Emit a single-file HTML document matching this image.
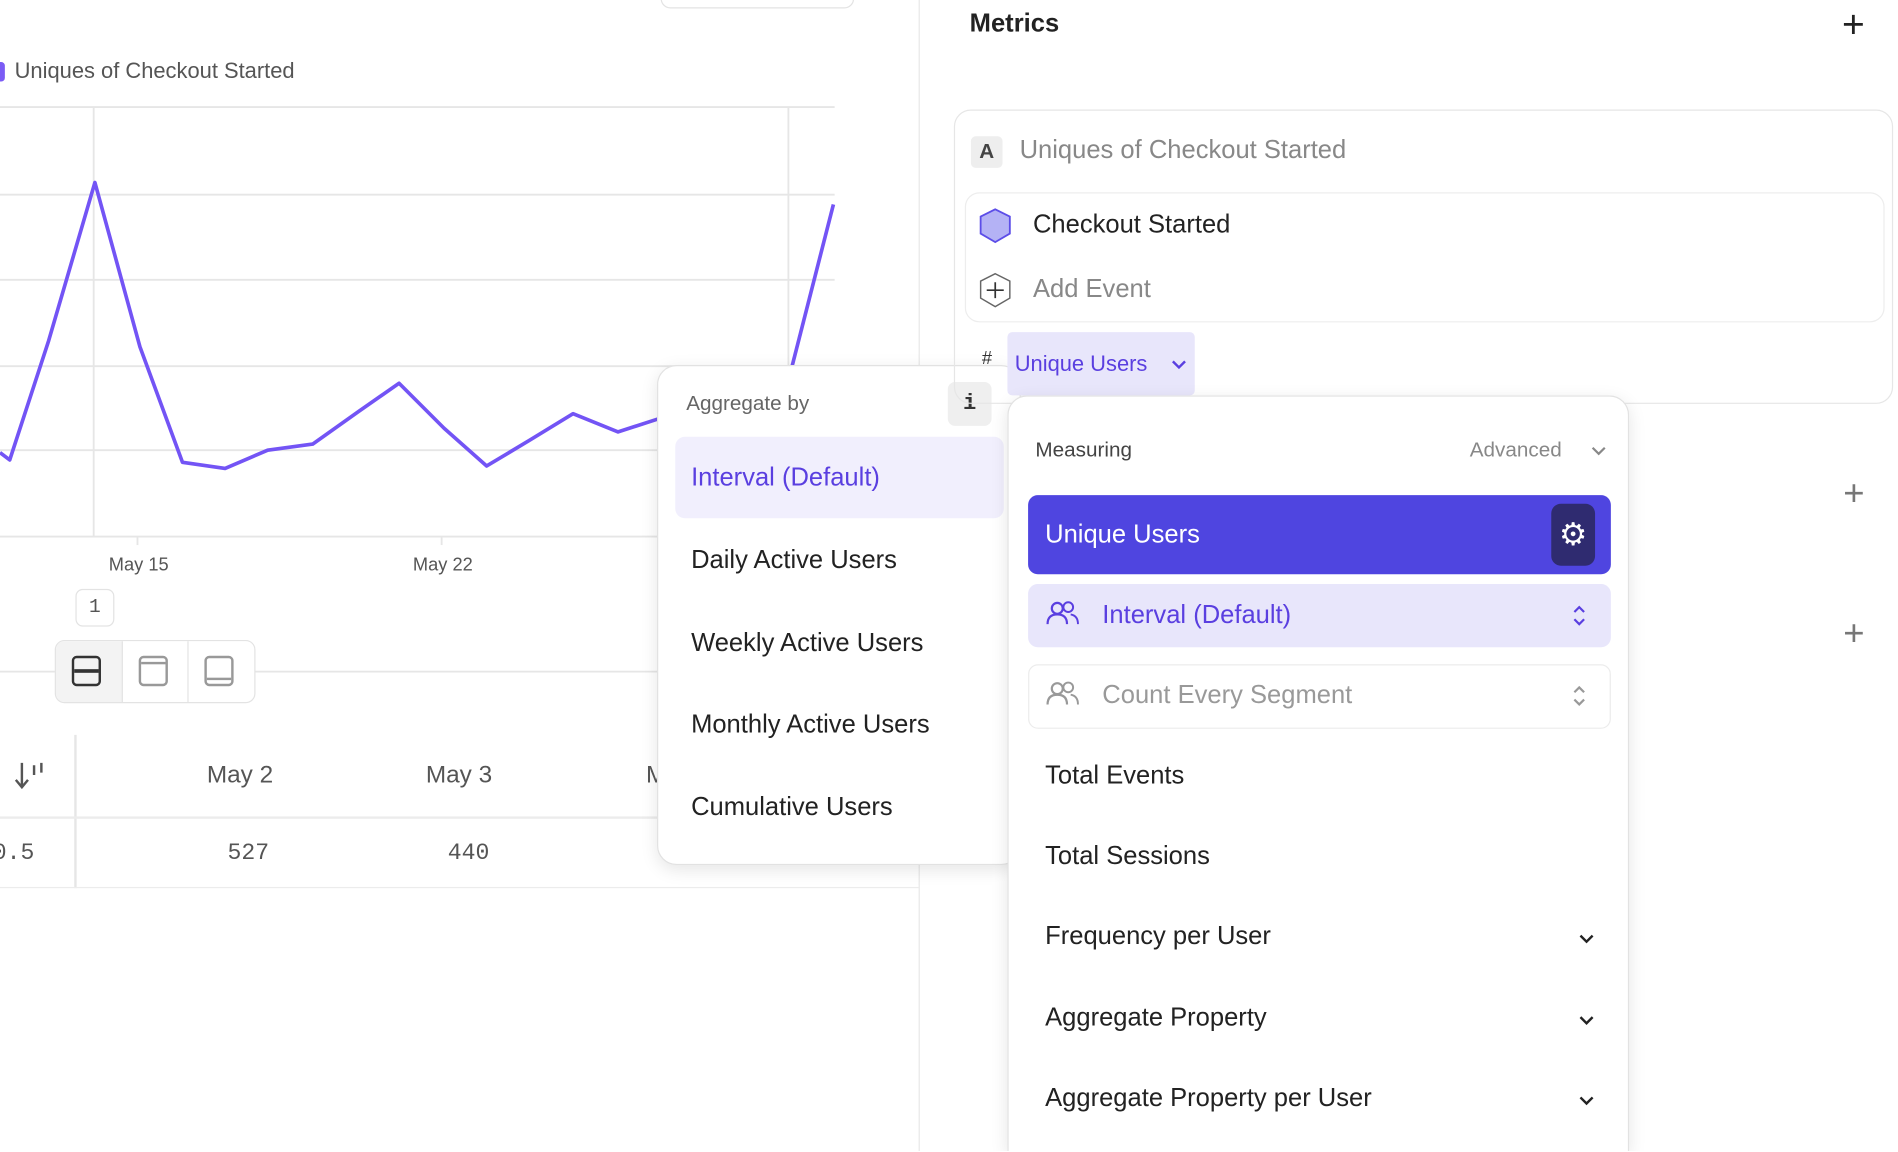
<!DOCTYPE html>
<html><head><meta charset="utf-8"><style>
html,body{margin:0;padding:0;width:1898px;height:1152px;overflow:hidden;background:#fff;}
#w{position:absolute;left:0;top:0;width:1560px;height:946px;overflow:hidden;transform:scale(1.21667);transform-origin:0 0;font-family:"Liberation Sans",sans-serif;}
.a{position:absolute;white-space:nowrap;}
.t22{font-size:21px;color:#222;}
.pop{position:absolute;background:#fff;border:1px solid #e2e2e2;border-radius:16px;box-shadow:0 4px 14px rgba(0,0,0,0.10);}
</style></head><body><div id="w">
<div class="a" style="left:543px;top:-10px;width:157px;height:15px;border:1px solid #e3e3e3;border-radius:8px;"></div>
<div class="a" style="left:755px;top:0;width:1px;height:946px;background:#e8e8e8;"></div>
<div class="a" style="left:-3px;top:51px;width:7px;height:16px;background:#7b5cf5;border-radius:3px;"></div>
<div class="a" style="left:12px;top:48px;font-size:18px;color:#555;">Uniques of Checkout Started</div>
<svg class="a" style="left:0;top:0" width="760" height="560">
<g stroke="#e6e6e6" stroke-width="1.5">
<line x1="0" y1="88" x2="686" y2="88"/><line x1="0" y1="160" x2="686" y2="160"/><line x1="0" y1="230" x2="686" y2="230"/><line x1="0" y1="301" x2="686" y2="301"/><line x1="0" y1="370" x2="686" y2="370"/><line x1="0" y1="441" x2="686" y2="441"/>
<line x1="77" y1="88" x2="77" y2="441"/><line x1="648" y1="88" x2="648" y2="441"/>
<line x1="113" y1="441" x2="113" y2="448"/><line x1="363" y1="441" x2="363" y2="448"/>
<line x1="0" y1="552" x2="560" y2="552"/>
</g>
<polyline fill="none" stroke="#7354f5" stroke-width="3" stroke-linejoin="round" points="0,372 8,378 40,280 78,150 115,285 150,380 185,385 220,370 257,365 295,338 328,315 365,352 400,383 435,362 471,340 508,355 545,343"/>
<polyline fill="none" stroke="#7354f5" stroke-width="3" points="650,305 685,168"/>
<text x="114" y="469" font-size="15" fill="#555" text-anchor="middle" font-family="Liberation Sans">May 15</text>
<text x="364" y="469" font-size="15" fill="#555" text-anchor="middle" font-family="Liberation Sans">May 22</text>
</svg>
<div class="a" style="left:62px;top:484px;width:30px;height:29px;border:1px solid #e3e3e3;border-radius:6px;font:16px 'Liberation Mono',monospace;color:#555;text-align:center;line-height:29px;">1</div>
<div class="a" style="left:45px;top:526px;width:163px;height:50px;border:1px solid #e3e3e3;border-radius:8px;background:#fff;overflow:hidden;">
<div class="a" style="left:0;top:0;width:54px;height:50px;background:#f3f3f3;border-right:1px solid #e3e3e3;"></div>
<div class="a" style="left:108px;top:0;width:1px;height:50px;background:#e3e3e3;"></div>
<div class="a" style="left:13px;top:12px;width:24px;height:25px;border:2.5px solid #333;border-radius:4px;box-sizing:border-box;"><div style="position:absolute;left:0;right:0;top:9px;height:2.5px;background:#333"></div></div>
<div class="a" style="left:68px;top:12px;width:24px;height:25px;border:2px solid #999;border-radius:4px;box-sizing:border-box;"><div style="position:absolute;left:0;right:0;top:3px;height:2px;background:#999"></div></div>
<div class="a" style="left:122px;top:12px;width:24px;height:25px;border:2px solid #999;border-radius:4px;box-sizing:border-box;"><div style="position:absolute;left:0;right:0;bottom:3px;height:2px;background:#999"></div></div>
</div>
<div class="a" style="left:61px;top:604px;width:2px;height:126px;background:#e6e6e6;"></div>
<div class="a" style="left:0;top:671px;width:755px;height:2px;background:#ececec;"></div>
<div class="a" style="left:0;top:729px;width:755px;height:1px;background:#ececec;"></div>
<svg class="a" style="left:10px;top:624px" width="28" height="28"><path d="M8,3 V22 M3,17 L8,23 L13,17" fill="none" stroke="#555" stroke-width="2"/><line x1="18" y1="5" x2="18" y2="13" stroke="#555" stroke-width="2"/><line x1="24" y1="3" x2="24" y2="11" stroke="#555" stroke-width="2"/></svg>
<div class="a" style="left:170px;top:626px;font-size:20px;color:#555;">May 2</div>
<div class="a" style="left:350px;top:626px;font-size:20px;color:#555;">May 3</div>
<div class="a" style="left:531px;top:626px;font-size:20px;color:#555;">M</div>
<div class="a" style="left:-6px;top:690px;font:19px 'Liberation Mono',monospace;color:#555;">0.5</div>
<div class="a" style="left:187px;top:690px;font:19px 'Liberation Mono',monospace;color:#555;">527</div>
<div class="a" style="left:368px;top:690px;font:19px 'Liberation Mono',monospace;color:#555;">440</div>

<div class="pop" style="left:540px;top:300px;width:297px;height:409px;">
<div class="a" style="left:23px;top:21px;font-size:17px;color:#666;">Aggregate by</div>
<div class="a" style="left:238px;top:13px;width:36px;height:36px;background:#efefef;border-radius:6px;font:bold 18px 'Liberation Mono',monospace;color:#333;text-align:center;line-height:36px;">i</div>
<div class="a" style="left:14px;top:58px;width:270px;height:67px;background:#f1effd;border-radius:8px;"></div>
<div class="a" style="left:27px;top:80px;font-size:21px;color:#5a3fe0;">Interval (Default)</div>
<div class="a t22" style="left:27px;top:148px;">Daily Active Users</div>
<div class="a t22" style="left:27px;top:216px;">Weekly Active Users</div>
<div class="a t22" style="left:27px;top:283px;">Monthly Active Users</div>
<div class="a t22" style="left:27px;top:351px;">Cumulative Users</div>
</div>

<div class="a" style="left:797px;top:8px;font-size:21px;font-weight:bold;color:#222;">Metrics</div>
<div class="a" style="left:1514px;top:2px;font-size:32px;color:#222;">+</div>
<div class="a" style="left:784px;top:90px;width:772px;height:242px;border:1.5px solid #e6e6e6;border-radius:14px;box-sizing:border-box;"></div>
<div class="a" style="left:798px;top:112px;width:26px;height:26px;background:#eee;border-radius:4px;font-size:17px;color:#444;text-align:center;line-height:26px;font-weight:bold;">A</div>
<div class="a" style="left:838px;top:112px;font-size:21px;color:#888;">Uniques of Checkout Started</div>
<div class="a" style="left:793px;top:158px;width:756px;height:107px;border:1.5px solid #ededed;border-radius:12px;box-sizing:border-box;"></div>
<svg class="a" style="left:804px;top:170px" width="30" height="84">
<polygon points="14,2 26,8 26,22 14,29 2,22 2,8" fill="#b4b2f5" stroke="#5c4de8" stroke-width="1.5"/>
<polygon points="14,55 26,61 26,75 14,82 2,75 2,61" fill="none" stroke="#666" stroke-width="1.2"/>
<line x1="14" y1="62" x2="14" y2="75" stroke="#333" stroke-width="1.4"/><line x1="7" y1="68.5" x2="21" y2="68.5" stroke="#333" stroke-width="1.4"/>
</svg>
<div class="a t22" style="left:849px;top:173px;">Checkout Started</div>
<div class="a" style="left:849px;top:226px;font-size:21px;color:#888;">Add Event</div>
<div class="a" style="left:807px;top:286px;font-size:15px;color:#333;">#</div>
<div class="a" style="left:828px;top:273px;width:154px;height:52px;background:#e8e6fb;border-radius:4px;"></div>
<div class="a" style="left:834px;top:289px;font-size:18px;color:#5a3fe0;">Unique Users</div>
<svg class="a" style="left:962px;top:295px" width="14" height="10"><path d="M2,2 L7,7 L12,2" fill="none" stroke="#5a3fe0" stroke-width="2"/></svg>
<div class="a" style="left:1515px;top:389px;font-size:30px;color:#777;">+</div>
<div class="a" style="left:1515px;top:504px;font-size:30px;color:#777;">+</div>

<div class="pop" style="left:828px;top:325px;width:511px;height:621px;border-bottom:none;border-radius:16px 16px 0 0;box-sizing:border-box;">
<div class="a" style="left:22px;top:34px;font-size:17px;color:#444;">Measuring</div>
<div class="a" style="left:379px;top:34px;font-size:17px;color:#888;">Advanced</div>
<svg class="a" style="left:478px;top:40px" width="14" height="10"><path d="M2,2 L7,7 L12,2" fill="none" stroke="#888" stroke-width="1.8"/></svg>
<div class="a" style="left:16px;top:81px;width:479px;height:65px;background:#4f45e0;border-radius:8px;"></div>
<div class="a" style="left:30px;top:102px;font-size:21px;color:#fff;">Unique Users</div>
<div class="a" style="left:446px;top:88px;width:36px;height:51px;background:#2f2b70;border-radius:8px;color:#fff;font-size:26px;text-align:center;line-height:51px;">⚙</div>
<div class="a" style="left:16px;top:154px;width:479px;height:52px;background:#e8e6fb;border-radius:8px;"></div>
<svg class="a" style="left:30px;top:168px" width="30" height="22"><circle cx="10" cy="6" r="4.5" fill="none" stroke="#5a3fe0" stroke-width="1.8"/><path d="M2,19 Q2,11 10,11 Q18,11 18,19" fill="none" stroke="#5a3fe0" stroke-width="1.8"/><circle cx="19" cy="5" r="4" fill="none" stroke="#5a3fe0" stroke-width="1.6"/><path d="M21,11 Q27,12 27,19" fill="none" stroke="#5a3fe0" stroke-width="1.6"/></svg>
<div class="a" style="left:77px;top:168px;font-size:21px;color:#5a3fe0;">Interval (Default)</div>
<svg class="a" style="left:462px;top:170px" width="14" height="20"><path d="M3,7 L7,3 L11,7 M3,13 L7,17 L11,13" fill="none" stroke="#5a3fe0" stroke-width="1.8"/></svg>
<div class="a" style="left:16px;top:220px;width:477px;height:51px;border:1px solid #ececec;border-radius:8px;"></div>
<svg class="a" style="left:30px;top:234px" width="30" height="22"><circle cx="10" cy="6" r="4.5" fill="none" stroke="#999" stroke-width="1.8"/><path d="M2,19 Q2,11 10,11 Q18,11 18,19" fill="none" stroke="#999" stroke-width="1.8"/><circle cx="19" cy="5" r="4" fill="none" stroke="#999" stroke-width="1.6"/><path d="M21,11 Q27,12 27,19" fill="none" stroke="#999" stroke-width="1.6"/></svg>
<div class="a" style="left:77px;top:234px;font-size:21px;color:#999;">Count Every Segment</div>
<svg class="a" style="left:462px;top:236px" width="14" height="20"><path d="M3,7 L7,3 L11,7 M3,13 L7,17 L11,13" fill="none" stroke="#999" stroke-width="1.8"/></svg>
<div class="a t22" style="left:30px;top:300px;">Total Events</div>
<div class="a t22" style="left:30px;top:366px;">Total Sessions</div>
<div class="a t22" style="left:30px;top:432px;">Frequency per User</div>
<div class="a t22" style="left:30px;top:499px;">Aggregate Property</div>
<div class="a t22" style="left:30px;top:565px;">Aggregate Property per User</div>
<svg class="a" style="left:467px;top:440px" width="16" height="12"><path d="M3,3 L8,8 L13,3" fill="none" stroke="#222" stroke-width="2"/></svg>
<svg class="a" style="left:467px;top:507px" width="16" height="12"><path d="M3,3 L8,8 L13,3" fill="none" stroke="#222" stroke-width="2"/></svg>
<svg class="a" style="left:467px;top:573px" width="16" height="12"><path d="M3,3 L8,8 L13,3" fill="none" stroke="#222" stroke-width="2"/></svg>
</div>
</div></body></html>
